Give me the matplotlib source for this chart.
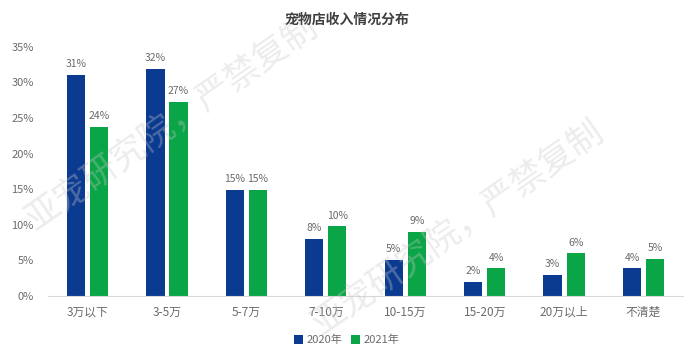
import matplotlib.pyplot as plt
import numpy as np

plt.rcParams['font.family'] = ['Noto Sans CJK SC', 'DejaVu Sans']

# data (percent)
categories = ['3万以下', '3-5万', '5-7万', '7-10万', '10-15万', '15-20万', '20万以上', '不清楚']
share_2020 = [31.1, 31.9, 14.9, 8.0, 5.1, 2.0, 3.0, 3.9]
share_2021 = [23.8, 27.3, 14.9, 9.8, 9.0, 3.9, 6.0, 5.2]
labels_2020 = ['31%', '32%', '15%', '8%', '5%', '2%', '3%', '4%']
labels_2021 = ['24%', '27%', '15%', '10%', '9%', '4%', '6%', '5%']
yticks = [0, 5, 10, 15, 20, 25, 30, 35]

blue = '#0b3a91'
green = '#0aa546'
gray = '#6b6b6b'

fig = plt.figure(figsize=(6.93, 3.55), dpi=100)
ax = fig.add_axes([0.069, 0.166, 0.917, 0.702])

x = np.arange(len(categories))
w = 0.23
b1 = ax.bar(x - w / 2 - 0.03, share_2020, w, color=blue, label='2020年', zorder=2)
b2 = ax.bar(x + w / 2 + 0.03, share_2021, w, color=green, label='2021年', zorder=2)

for bars, labs in ((b1, labels_2020), (b2, labels_2021)):
    for bar, lab in zip(bars, labs):
        ax.text(bar.get_x() + bar.get_width() / 2, bar.get_height() + 0.8, lab,
                ha='center', va='bottom', fontsize=7.5, color=gray)

ax.set_xlim(-0.5, len(categories) - 0.5)
ax.set_ylim(0, 35)
ax.set_yticks(yticks)
ax.set_yticklabels([f'{t}%' for t in yticks])
ax.set_xticks(x)
ax.set_xticklabels(categories)
ax.tick_params(axis='both', length=0, labelsize=8, colors=gray)
ax.tick_params(axis='x', labelsize=8.5, pad=7)
ax.tick_params(axis='y', pad=10)
for s in ('top', 'right', 'left'):
    ax.spines[s].set_visible(False)
ax.spines['bottom'].set_color('#d9d9d9')
ax.patch.set_alpha(0)

fig.text(0.5, 0.945, '宠物店收入情况分布', ha='center', va='center',
         fontsize=10, fontweight='bold', color='#404040')

fig.legend(loc='center', bbox_to_anchor=(0.5, 0.042), ncol=2, frameon=False,
           fontsize=8, handlelength=0.8, handleheight=0.8, handletextpad=0.3,
           columnspacing=0.8, labelcolor=gray)

# faint watermark
wm = '亚宠研究院，严禁复制'
for (wx, wy) in [(0.058, 0.33), (0.47, 0.035)]:
    fig.text(wx, wy, wm, fontsize=25, color='#c8c8c8', alpha=0.35,
             rotation=35, rotation_mode='anchor', ha='left', va='bottom', zorder=0)

fig.savefig('out.png', dpi=100)
